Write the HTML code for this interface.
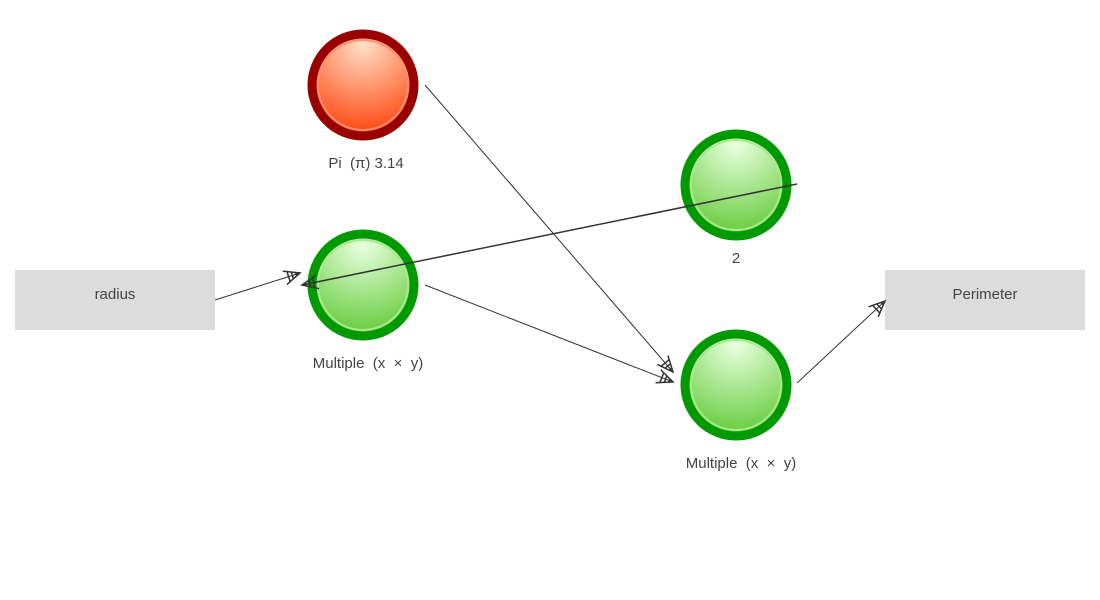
<!DOCTYPE html>
<html><head><style>body{margin:0;background:#fff}svg{display:block}</style></head><body>
<svg width="1100" height="600" xmlns="http://www.w3.org/2000/svg" font-family="Liberation Sans, sans-serif">
<defs>
<radialGradient id="r" cx="0.5" cy="0.1" r="0.95"><stop offset="0" stop-color="#ffe0c8"/><stop offset="1" stop-color="#ff3a00"/></radialGradient>
<radialGradient id="g" cx="0.5" cy="0.1" r="0.95"><stop offset="0" stop-color="#eaffe0"/><stop offset="1" stop-color="#5cc830"/></radialGradient>
<marker id="a" markerWidth="18" markerHeight="16" refX="16" refY="8" orient="auto" markerUnits="userSpaceOnUse"><path d="M0,1 L16,8 L0,15 M4,3 L4,13 M8,4.5 L8,11.5 M12,6 L12,10" fill="none" stroke="#333" stroke-width="1.5"/></marker>
</defs>
<rect x="15" y="270" width="200" height="60" fill="#dcdcdc"/>
<rect x="885" y="270" width="200" height="60" fill="#dcdcdc"/>
<text x="115" y="299" font-size="15" fill="#444" text-anchor="middle">radius</text>
<text x="985" y="299" font-size="15" fill="#444" text-anchor="middle">Perimeter</text>
<g>
<circle cx="363" cy="85" r="51" fill="url(#r)" stroke="#990000" stroke-width="9"/>
<circle cx="363" cy="85" r="45" fill="none" stroke="#ff9070" stroke-width="2"/>
<circle cx="363" cy="285" r="51" fill="url(#g)" stroke="#009900" stroke-width="9"/>
<circle cx="363" cy="285" r="45" fill="none" stroke="#a8e890" stroke-width="2"/>
<circle cx="736" cy="185" r="51" fill="url(#g)" stroke="#009900" stroke-width="9"/>
<circle cx="736" cy="185" r="45" fill="none" stroke="#a8e890" stroke-width="2"/>
<circle cx="736" cy="385" r="51" fill="url(#g)" stroke="#009900" stroke-width="9"/>
<circle cx="736" cy="385" r="45" fill="none" stroke="#a8e890" stroke-width="2"/>
</g>
<g font-size="15" fill="#444" text-anchor="middle">
<text x="366" y="168">Pi&#160;&#160;(π)&#160;3.14</text>
<text x="368" y="368">Multiple&#160;&#160;(x&#160;&#160;×&#160;&#160;y)</text>
<text x="736" y="263">2</text>
<text x="741" y="468">Multiple&#160;&#160;(x&#160;&#160;×&#160;&#160;y)</text>
</g>
<g stroke="#333" stroke-width="1" fill="none">
<line x1="215" y1="300" x2="300" y2="273" marker-end="url(#a)"/>
<line x1="797" y1="184" x2="302" y2="285" marker-end="url(#a)" stroke-width="1.5"/>
<line x1="425" y1="285" x2="673" y2="382" marker-end="url(#a)"/>
<line x1="425" y1="85" x2="673" y2="372" marker-end="url(#a)"/>
<line x1="797" y1="383" x2="885" y2="301" marker-end="url(#a)"/>
</g>
</svg>
</body></html>
